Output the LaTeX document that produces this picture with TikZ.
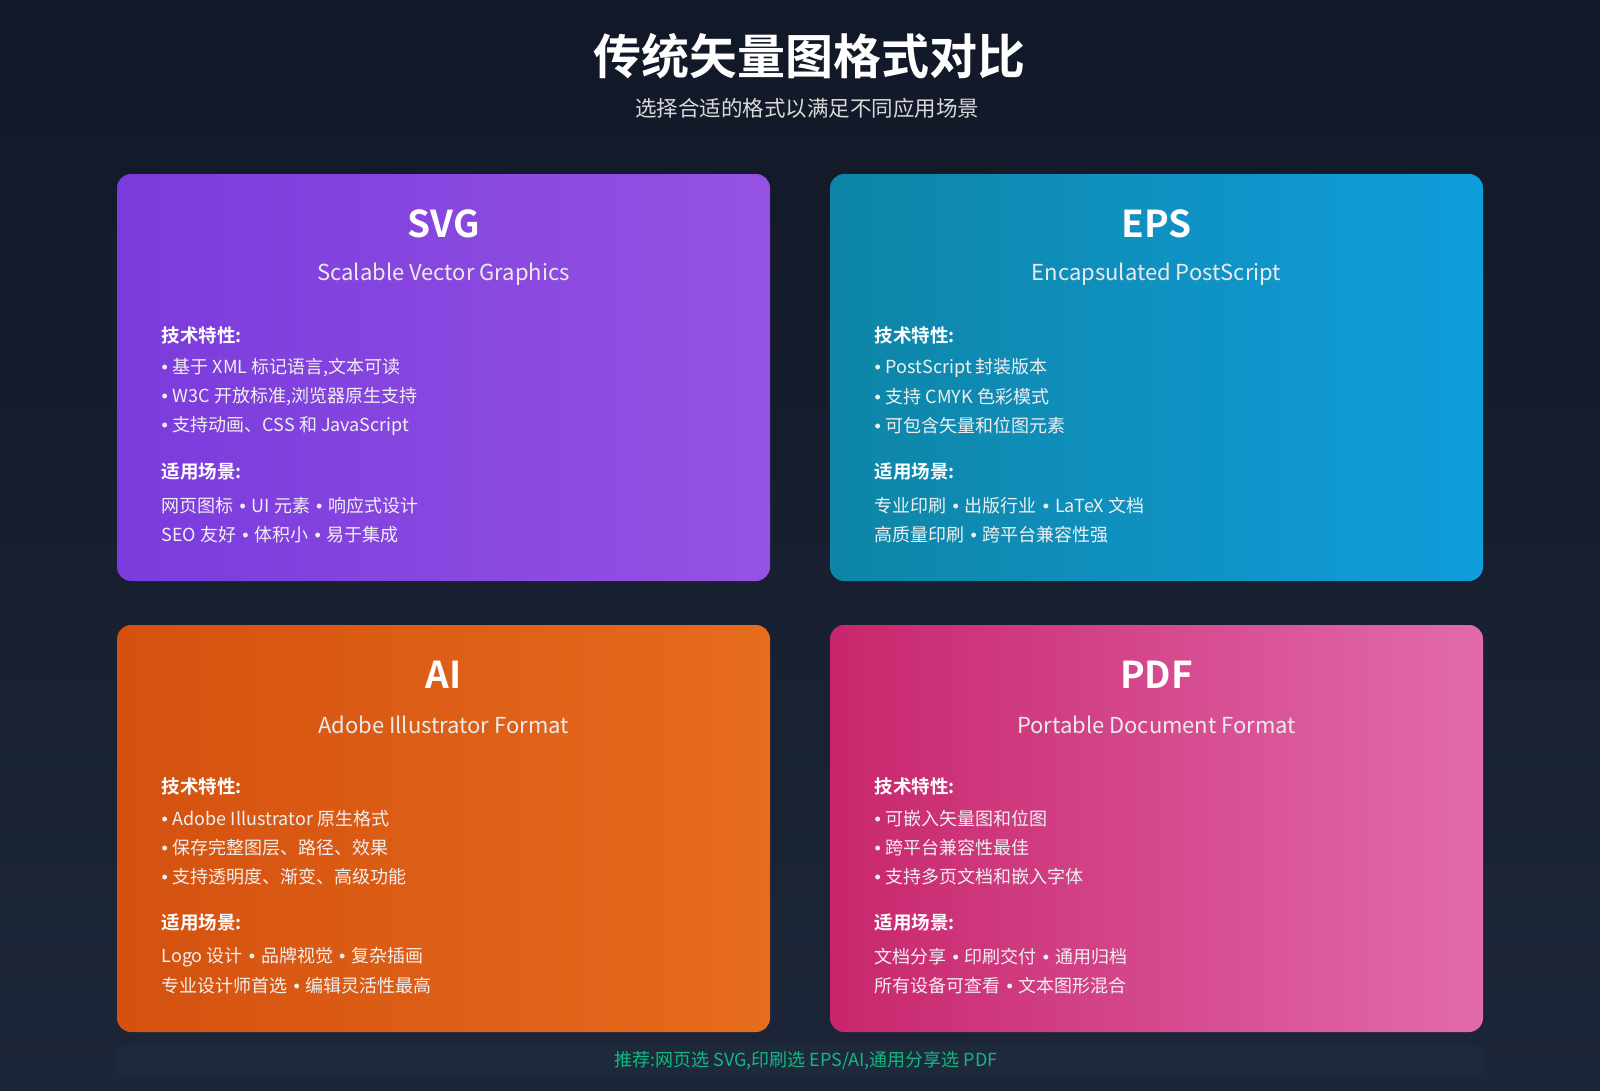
\documentclass[tikz,border=0pt]{standalone}
\usepackage{fontspec}
\setmainfont{Noto Sans CJK SC}[BoldFont={Noto Sans CJK SC Bold}]
\newfontfamily\bulfont{Liberation Sans}
\newcommand{\bu}{{\bulfont •}}
\newcommand{\sep}{\hspace{6pt}\bu\hspace{6pt}}
\begin{document}
\begin{tikzpicture}[x=1pt,y=-1pt,
 ttl/.style={text=white,font=\fontsize{37}{40}\selectfont\bfseries,anchor=center},
 sub/.style={text=white!92!black,font=\fontsize{22}{26}\selectfont,anchor=center},
 hd/.style={text=white,font=\fontsize{18.5}{22}\selectfont\bfseries,anchor=west},
 bd/.style={text=white!94!black,font=\fontsize{18}{22}\selectfont,anchor=west}]
\shade[top color={rgb,255:red,17;green,24;blue,39},bottom color={rgb,255:red,29;green,38;blue,56}] (0,0) rectangle (1600,1090);
\useasboundingbox (0,0) rectangle (1600,1090);
\node[text=white,font=\fontsize{48}{52}\selectfont\bfseries] (title) at (809,56) {传统矢量图格式对比};
\node[text=white!85!black,font=\fontsize{21.5}{24}\selectfont] (subtitle) at (807,108) {选择合适的格式以满足不同应用场景};
\newcommand{\card}[9]{%
 \shade[rounded corners=14pt,shading=axis,shading angle=120,left color=#3,right color=#4] (#1,#2) rectangle ++(653,407);
 \node[ttl] at (#1+326.5,#2+50) {#5};
 \node[sub] at (#1+326.5,#2+100) {#6};
 \node[hd] at (#1+41,#2+161) {技术特性:};
 \node[hd] at (#1+41,#2+298) {适用场景:};
 #7
 \node[bd] at (#1+41,#2+332) {#8};
 \node[bd] at (#1+41,#2+361) {#9};
}
\newcommand{\bl}[4]{\node[bd] at (#1+41,#2+#3) {\bu\hspace{5pt}#4};}
\definecolor{c1}{HTML}{7A3BDC}\definecolor{c2}{HTML}{9552E2}
\definecolor{c3}{HTML}{0E85A6}\definecolor{c4}{HTML}{109DDC}
\definecolor{c5}{HTML}{D4510F}\definecolor{c6}{HTML}{E66C1E}
\definecolor{c7}{HTML}{C8266C}\definecolor{c8}{HTML}{E26BAD}
\card{117}{174}{c1}{c2}{SVG}{Scalable Vector Graphics}{\bl{117}{174}{194}{基于 XML 标记语言,文本可读}\bl{117}{174}{223}{W3C 开放标准,浏览器原生支持}\bl{117}{174}{252}{支持动画、CSS 和 JavaScript}}{网页图标\sep UI 元素\sep 响应式设计}{SEO 友好\sep 体积小\sep 易于集成}
\card{830}{174}{c3}{c4}{EPS}{Encapsulated PostScript}{\bl{830}{174}{194}{PostScript 封装版本}\bl{830}{174}{223}{支持 CMYK 色彩模式}\bl{830}{174}{252}{可包含矢量和位图元素}}{专业印刷\sep 出版行业\sep LaTeX 文档}{高质量印刷\sep 跨平台兼容性强}
\card{117}{625}{c5}{c6}{AI}{Adobe Illustrator Format}{\bl{117}{625}{194}{Adobe Illustrator 原生格式}\bl{117}{625}{223}{保存完整图层、路径、效果}\bl{117}{625}{252}{支持透明度、渐变、高级功能}}{Logo 设计\sep 品牌视觉\sep 复杂插画}{专业设计师首选\sep 编辑灵活性最高}
\card{830}{625}{c7}{c8}{PDF}{Portable Document Format}{\bl{830}{625}{194}{可嵌入矢量图和位图}\bl{830}{625}{223}{跨平台兼容性最佳}\bl{830}{625}{252}{支持多页文档和嵌入字体}}{文档分享\sep 印刷交付\sep 通用归档}{所有设备可查看\sep 文本图形混合}
\fill[rounded corners=6pt,fill={rgb,255:red,30;green,41;blue,59}] (117,1046) rectangle (1483,1075);
\node[text={rgb,255:red,16;green,185;blue,129},font=\fontsize{18}{20}\selectfont] (rec) at (806,1061) {推荐:网页选 SVG,印刷选 EPS/AI,通用分享选 PDF};
\end{tikzpicture}
\end{document}
